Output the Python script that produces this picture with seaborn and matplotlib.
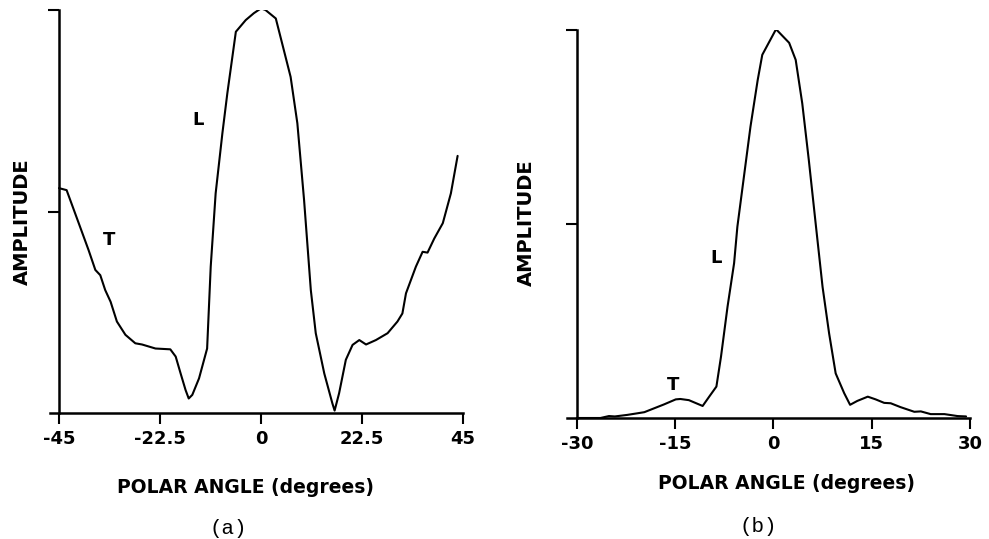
import matplotlib
matplotlib.use("Agg")
import matplotlib.pyplot as plt
import seaborn as sns
import pandas as pd

# Panel (a): polar angle (deg) vs amplitude
angle_a = [-45.0, -43.3, -40.6, -38.4, -36.9, -35.8, -34.7, -33.5, -32.1, -30.2,
           -28.0, -26.5, -23.5, -20.2, -19.0, -17.9, -16.8, -16.1, -15.3, -13.8,
           -12.0, -11.2, -10.1, -8.6, -7.5, -5.6, -3.4, -1.6, 0.0, 1.0,
           3.3, 5.1, 6.6, 8.1, 9.6, 11.1, 12.2, 14.1, 15.9, 16.4,
           17.4, 18.9, 20.4, 21.9, 23.4, 25.6, 28.2, 30.4, 31.5, 32.3,
           34.5, 36.0, 37.1, 38.6, 40.5, 42.3, 43.8]
amp_a = [0.558, 0.553, 0.471, 0.404, 0.355, 0.342, 0.305, 0.276, 0.227, 0.194,
         0.173, 0.170, 0.160, 0.158, 0.140, 0.098, 0.057, 0.036, 0.045, 0.086,
         0.160, 0.363, 0.545, 0.694, 0.793, 0.946, 0.975, 0.992, 1.004, 1.000,
         0.979, 0.900, 0.834, 0.719, 0.528, 0.305, 0.198, 0.098, 0.024, 0.006,
         0.049, 0.132, 0.169, 0.181, 0.170, 0.181, 0.198, 0.227, 0.247, 0.297,
         0.363, 0.400, 0.398, 0.433, 0.471, 0.545, 0.638]

# Panel (b)
angle_b = [-30.0, -26.4, -25.1, -24.2, -22.3, -20.8, -19.7, -18.2, -16.7, -14.9,
           -14.2, -12.9, -10.8, -9.8, -8.7, -8.0, -7.0, -6.0, -5.5, -4.5,
           -3.5, -2.4, -1.7, 0.4, 2.4, 3.4, 4.4, 5.4, 6.5, 7.5,
           8.5, 9.5, 10.8, 11.7, 12.8, 14.4, 15.6, 16.9, 17.9, 19.4,
           21.5, 22.5, 24.0, 26.1, 28.1, 29.4]
amp_b = [0.000, 0.000, 0.005, 0.004, 0.008, 0.012, 0.015, 0.025, 0.035, 0.048,
         0.049, 0.046, 0.031, 0.055, 0.081, 0.158, 0.287, 0.399, 0.493, 0.622,
         0.751, 0.871, 0.936, 1.002, 0.967, 0.923, 0.811, 0.665, 0.493, 0.338,
         0.218, 0.115, 0.064, 0.034, 0.044, 0.055, 0.048, 0.039, 0.038, 0.028,
         0.016, 0.017, 0.010, 0.010, 0.005, 0.004]

ticks_a = [-45, -22.5, 0, 22.5, 45]
ticklabels_a = ["-45", "-22.5", "0", "22.5", "45"]
ticks_b = [-30, -15, 0, 15, 30]
ticklabels_b = ["-30", "-15", "0", "15", "30"]
yticks = [0.5, 1.0]

sns.set_style("ticks")
plt.rcParams["font.family"] = ["DejaVu Sans"]
plt.rcParams["text.color"] = "black"
plt.rcParams["axes.labelcolor"] = "black"
plt.rcParams["xtick.color"] = "black"
plt.rcParams["ytick.color"] = "black"

fig = plt.figure(figsize=(9.89, 5.39), dpi=100)
# axes: x-axis line starts a little left of the y-axis, like the original
ax_a = fig.add_axes([50 / 989, 1 - 413 / 539, 413 / 989, 403 / 539])
ax_b = fig.add_axes([567 / 989, 1 - 418 / 539, 403 / 989, 388 / 539])

df_a = pd.DataFrame({"angle": angle_a, "amp": amp_a})
df_b = pd.DataFrame({"angle": angle_b, "amp": amp_b})

sns.lineplot(data=df_a, x="angle", y="amp", ax=ax_a, color="black", lw=1.5,
             sort=False, estimator=None)
sns.lineplot(data=df_b, x="angle", y="amp", ax=ax_b, color="black", lw=1.5,
             sort=False, estimator=None)

panels = [
    (ax_a, ticks_a, ticklabels_a, (-47.0, 45.0), -45, (0.473, -0.184), (-0.066, 0.475)),
    (ax_b, ticks_b, ticklabels_b, (-31.5, 30.0), -30, (0.545, -0.170), (-0.100, 0.503)),
]
for ax, ticks, labels, xlim, x0, xl, yl in panels:
    ax.set_xlim(*xlim)
    ax.set_ylim(0, 1)
    ax.set_xticks(ticks)
    ax.set_xticklabels(labels, fontsize=13, fontweight="bold")
    ax.set_yticks(yticks)
    ax.set_yticklabels([])
    for s in ["top", "right"]:
        ax.spines[s].set_visible(False)
    for s in ["left", "bottom"]:
        ax.spines[s].set_linewidth(1.8)
        ax.spines[s].set_color("black")
    ax.spines["left"].set_position(("data", x0))
    ax.tick_params(axis="x", direction="out", length=8, width=1.5, pad=4)
    ax.tick_params(axis="y", direction="out", length=8, width=1.5)
    ax.set_xlabel("POLAR ANGLE (degrees)", fontsize=13.5, fontweight="bold")
    ax.xaxis.label.set_verticalalignment("center")
    ax.xaxis.set_label_coords(*xl)
    ax.set_ylabel("AMPLITUDE", fontsize=14, fontweight="bold")
    ax.yaxis.label.set_verticalalignment("center")
    ax.yaxis.set_label_coords(*yl)
    ax.patch.set_alpha(0)

ax_a.text(-14.1, 0.727, "L", fontsize=13, fontweight="bold", ha="center", va="center")
ax_a.text(-33.9, 0.429, "T", fontsize=13, fontweight="bold", ha="center", va="center")
ax_b.text(-8.8, 0.412, "L", fontsize=13, fontweight="bold", ha="center", va="center")
ax_b.text(-15.3, 0.085, "T", fontsize=13, fontweight="bold", ha="center", va="center")

fig.text(228 / 989, 1 - 528 / 539, "(a)", fontsize=15, family="Liberation Mono",
         ha="center", va="center")
fig.text(758 / 989, 1 - 527 / 539, "(b)", fontsize=15, family="Liberation Mono",
         ha="center", va="center")

fig.savefig("out.png", dpi=100, facecolor="white")
